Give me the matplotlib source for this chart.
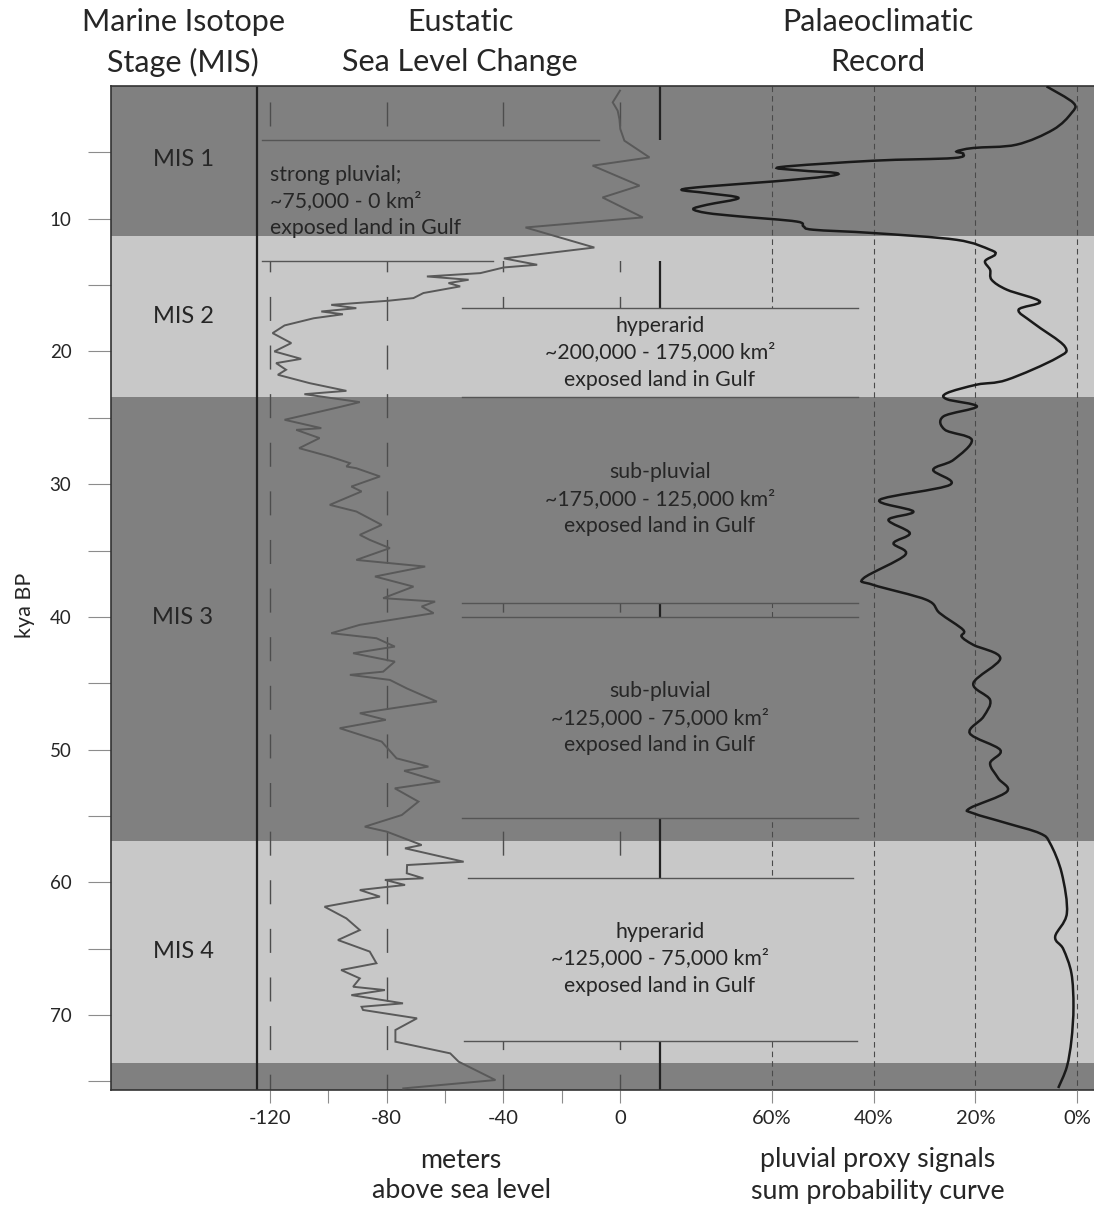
import matplotlib
matplotlib.use("Agg")
import matplotlib.pyplot as plt
from matplotlib.patches import Rectangle, PathPatch
from matplotlib.path import Path
import numpy as np

plt.rcParams['font.family'] = ['Lato', 'DejaVu Sans']

# ---------------- data ----------------
# Eustatic sea level (kya BP, metres above sea level)
sl_kya = [0.35, 1.23, 1.86, 2.49, 3.24, 4.12, 5.38, 6.0, 7.51, 8.40, 9.90, 10.66, 12.17, 12.99,
          13.47, 13.67, 14.10, 14.35, 14.60, 14.85, 15.10, 15.60, 15.98, 16.18, 16.49, 16.74,
          16.99, 17.2, 17.5, 18.04, 18.62, 19.37, 20.0, 20.56, 20.88, 21.38, 21.76, 22.39,
          22.97, 23.22, 23.82, 24.22, 25.15, 25.78, 25.91, 26.53, 27.29, 27.92, 28.17, 28.42,
          28.67, 28.80, 29.42, 30.18, 30.55, 31.56, 32.06, 33.07, 33.82, 34.2, 34.82, 35.71,
          36.21, 36.96, 37.72, 38.59, 38.85, 39.22, 39.72, 40.60, 41.23, 41.61, 42.24, 42.74,
          43.37, 44.13, 44.37, 44.75, 45.4, 46.38, 47.26, 47.76, 48.39, 49.40, 50.66, 51.28,
          51.6, 52.42, 52.92, 53.92, 54.93, 55.81, 56.18, 57.19, 57.44, 58.45, 58.7, 59.32,
          59.70, 59.82, 60.20, 60.58, 61.08, 61.84, 62.72, 63.60, 64.35, 65.22, 66.10, 66.61,
          67.24, 67.87, 68.12, 68.50, 69.12, 69.38, 69.62, 70.25, 71.13, 72.01, 72.89, 73.52,
          74.90, 75.53]
sl_m = [0.0, -2.5, -0.8, -0.2, 0.1, 1.5, 10.1, -9.4, 6.7, -6.0, 7.8, -32.4, -8.8, -39.8,
        -28.4, -39.8, -47.9, -66.2, -51.9, -58.8, -54.8, -67.4, -70.8, -79.4, -99.0, -90.4,
        -102.4, -95.0, -105.0, -115.0, -119.1, -112.7, -118.5, -109.3, -117.9, -114.5, -117.3, -106.4,
        -93.8, -108.2, -89.2, -96.7, -115.0, -102.4, -111.0, -103.0, -110.0, -99.5, -96.0, -92.6,
        -93.8, -90.4, -82.3, -92.1, -88.6, -99.5, -90.4, -81.7, -89.2, -85.8, -78.9, -90.4,
        -66.8, -84.0, -70.8, -81.2, -63.4, -68.0, -63.9, -89.2, -99.0, -83.5, -77.2, -91.5,
        -77.2, -81.2, -92.6, -78.9, -73.0, -62.8, -89.2, -80.3, -96.1, -81.7, -76.6, -65.7,
        -74.0, -61.7, -77.2, -69.1, -74.8, -87.5, -80.0, -68.0, -73.7, -53.6, -73.0, -73.1,
        -67.4, -80.6, -73.7, -89.2, -82.3, -101.3, -93.8, -89.2, -96.7, -85.8, -83.5, -95.6,
        -89.2, -91.5, -80.6, -92.1, -74.4, -88.6, -88.1, -69.6, -77.0, -77.0, -58.2, -55.3,
        -42.7, -74.3]

# Pluvial proxy signals, sum probability (kya BP, %)
pc_kya = [0.03, 1.28, 2.04, 3.29, 4.42, 4.67, 4.93, 5.10, 5.43, 5.63, 6.11, 6.36, 6.56, 6.81,
          7.19, 7.57, 7.82, 8.07, 8.44, 8.95, 9.27, 9.57, 9.83, 10.21, 10.58, 10.83, 11.08,
          11.59, 12.34, 12.70, 13.20, 13.85, 14.60, 15.35, 16.24, 16.86, 17.86, 19.63, 20.50,
          22.14, 22.50, 23.14, 23.60, 24.15, 24.90, 25.90, 26.66, 28.17, 28.92, 30.05, 31.18,
          32.06, 32.69, 33.69, 34.45, 35.33, 37.09, 37.59, 38.72, 39.72, 40.98, 41.49, 42.11,
          43.12, 45.00, 46.26, 47.52, 48.77, 50.03, 51.03, 52.16, 53.17, 54.42, 54.80, 55.55,
          56.31, 57.06, 59.32, 62.34, 64.10, 65.03, 66.86, 69.38, 71.89, 73.90, 75.50]
pc_pct = [6.0, 0.7, 1.1, 4.7, 11.9, 20.4, 23.7, 22.4, 24.3, 40.1, 58.4, 54.5, 47.3, 49.2,
          59.7, 72.8, 77.8, 72.8, 66.6, 72.8, 75.5, 72.8, 66.3, 55.2, 53.8, 51.9, 40.1,
          23.7, 17.1, 16.1, 18.1, 17.1, 16.8, 13.8, 7.3, 11.5, 8.6, 2.4, 4.0,
          13.8, 19.7, 25.6, 25.6, 19.7, 26.3, 26.0, 20.7, 24.3, 28.3, 25.0, 38.8,
          32.2, 37.1, 32.9, 36.1, 33.8, 42.0, 40.1, 29.6, 27.0, 22.4, 22.7, 20.4,
          15.1, 20.4, 17.1, 18.4, 21.1, 15.1, 17.1, 15.5, 13.8, 21.1, 20.4, 13.8,
          7.3, 5.3, 3.0, 2.0, 4.3, 2.7, 1.1, 0.7, 1.1, 2.0, 3.7]

# Marine isotope stages (start, end kya) and labels
mis_start = [0.0, 11.3, 23.4, 56.9, 73.6]
mis_end = [11.3, 23.4, 56.9, 73.6, 80.0]
mis_shade = ['dark', 'light', 'dark', 'light', 'dark']
mis_labels = ['MIS 1', 'MIS 2', 'MIS 3', 'MIS 4']
mis_label_kya = [5.55, 17.39, 40.08, 65.25]

sl_ticks_major = [-120, -80, -40, 0]
sl_ticks_minor = [-100, -60, -20]
pc_ticks = [60, 40, 20, 0]
pc_ticklabels = ['60%', '40%', '20%', '0%']
y_ticks_major = [10, 20, 30, 40, 50, 60, 70]
y_ticks_minor = [5, 15, 25, 35, 45, 55, 65, 75]

box_texts = [
    ["hyperarid", "~200,000 - 175,000 km²", "exposed land in Gulf"],
    ["sub-pluvial", "~175,000 - 125,000 km²", "exposed land in Gulf"],
    ["sub-pluvial", "~125,000 - 75,000 km²", "exposed land in Gulf"],
    ["hyperarid", "~125,000 - 75,000 km²", "exposed land in Gulf"],
]
box_text_kya = [[18.07, 20.03, 22.14], [29.07, 31.11, 33.14], [45.58, 47.61, 49.65], [63.74, 65.71, 67.82]]
mis1_text = ["strong pluvial;", "~75,000 - 0 km²", "exposed land in Gulf"]
mis1_text_kya = [6.70, 8.66, 10.68]

# ---------------- styling ----------------
DARK = '#808080'
LIGHT = '#c8c8c8'
TXT = '#262626'
shade = {'dark': DARK, 'light': LIGHT}

W, H = 1094, 1207
fig = plt.figure(figsize=(W / 100, H / 100), dpi=100)
L, R, T, B = 111, 1094, 86, 1090
ax = fig.add_axes([L / W, 1 - B / H, (R - L) / W, (B - T) / H])
YMAX = 75.65
ax.set_ylim(YMAX, 0)
ax.set_xlim(-174.5, 162.5)

ax2 = ax.twiny()
ax2.set_xlim(190.05, -3.34)
ax2.patch.set_visible(False)
for s in ax2.spines.values():
    s.set_visible(False)

# bands
for s0, s1, sh in zip(mis_start, mis_end, mis_shade):
    ax.axhspan(s0, min(s1, YMAX), color=shade[sh], lw=0, zorder=0)

# sea level gridlines (long dashes)
for xv in sl_ticks_major:
    ax.plot([xv, xv], [0, YMAX], color='#4d4d4d', lw=1.0,
            linestyle=(23.5, (17.3, 17.7)), zorder=1)
# palaeo gridlines (short dashes)
for pv in pc_ticks:
    ax.plot([pv, pv], [0, YMAX], color='#4a4a4a', lw=0.8,
            linestyle=(0, (5, 3.6)), transform=ax2.transData, zorder=1)

# vertical separators
ax.axvline(-124.4, color='#222222', lw=1.6, zorder=1.5)
ax.axvline(13.7, color='#222222', lw=1.6, zorder=1.5)

def band_color(k):
    for s0, s1, sh in zip(mis_start, mis_end, mis_shade):
        if s0 <= k < s1:
            return shade[sh]
    return DARK

def fill_box(x0, x1, k0, k1):
    cuts = [k0] + [s for s in mis_start if k0 < s < k1] + [k1]
    for a, b in zip(cuts[:-1], cuts[1:]):
        ax.add_patch(Rectangle((x0, a), x1 - x0, b - a, facecolor=band_color((a + b) / 2),
                               edgecolor='none', zorder=2))

fill_box(-122.7, 15.6, 4.05, 13.17)
for k0, k1 in [(16.71, 23.42), (23.42, 38.95), (40.0, 55.15), (59.67, 71.96)]:
    fill_box(-54.2, 81.6, k0, k1)

box_lines = [(4.05, -122.7, -7.2), (13.17, -122.7, -43.5), (16.71, -54.2, 81.6),
             (23.42, -54.2, 81.6), (38.95, -54.2, 81.6), (40.0, -54.2, 81.6),
             (55.15, -54.2, 81.6), (59.67, -52.1, 79.9), (71.96, -53.5, 81.2)]
for k, x0, x1 in box_lines:
    ax.plot([x0, x1], [k, k], color='#555555', lw=1.0, zorder=3)

# sea level curve
ax.plot(sl_m, sl_kya, color='#595959', lw=1.4, zorder=4, solid_joinstyle='miter')

# palaeoclimatic curve rendered as a smooth Bezier path through the read points
P = np.column_stack([pc_pct, pc_kya])
Pe = np.vstack([P[0], P, P[-1]])
verts = [tuple(P[0])]
codes = [Path.MOVETO]
for i in range(len(P) - 1):
    p0, p1, p2, p3 = Pe[i], Pe[i + 1], Pe[i + 2], Pe[i + 3]
    c1 = p1 + (p2 - p0) / 6.0
    c2 = p2 - (p3 - p1) / 6.0
    verts += [tuple(c1), tuple(c2), tuple(p2)]
    codes += [Path.CURVE4] * 3
ax.add_patch(PathPatch(Path(verts, codes), facecolor='none', edgecolor='#1a1a1a',
                       lw=1.8, zorder=4, transform=ax2.transData))

# texts
for lab, k in zip(mis_labels, mis_label_kya):
    ax.text(-149.8, k, lab, ha='center', va='center', fontsize=17, color=TXT, zorder=5)
for line, k in zip(mis1_text, mis1_text_kya):
    ax.text(-120.0, k, line, ha='left', va='center', fontsize=15.3, color=TXT, zorder=5)
for lines, ks in zip(box_texts, box_text_kya):
    for line, k in zip(lines, ks):
        ax.text(13.7, k, line, ha='center', va='center', fontsize=15.3, color=TXT, zorder=5)

# axes styling
for side in ['left', 'top', 'bottom']:
    ax.spines[side].set_color('#333333')
    ax.spines[side].set_linewidth(1.2)
ax.spines['right'].set_visible(False)

ax.set_yticks(y_ticks_major)
ax.set_yticks(y_ticks_minor, minor=True)
ax.set_yticklabels([str(v) for v in y_ticks_major])
ax.tick_params(axis='y', which='both', direction='out', length=16.5, width=0.8,
               color='#8c8c8c', pad=12, labelsize=13.5, labelcolor=TXT)
ax.set_xticks(sl_ticks_major)
ax.set_xticks(sl_ticks_minor, minor=True)
ax.set_xticklabels([str(v) for v in sl_ticks_major])
ax.tick_params(axis='x', which='both', direction='out', length=9.5, width=0.8,
               color='#8c8c8c', pad=5, labelsize=14.5, labelcolor=TXT)
ax2.xaxis.set_ticks_position('bottom')
ax2.set_xticks(pc_ticks)
ax2.set_xticklabels(pc_ticklabels)
ax2.tick_params(axis='x', which='both', direction='out', length=9.5, width=0.8,
                color='#8c8c8c', pad=5, labelsize=14.5, labelcolor=TXT)

def ftext(x, y, s, **kw):
    fig.text(x / W, 1 - y / H, s, ha='center', va='center', color=TXT, **kw)

ftext(183, 22, "Marine Isotope", fontsize=22)
ftext(183, 62, "Stage (MIS)", fontsize=22)
ftext(460, 22, "Eustatic", fontsize=22)
ftext(460, 62, "Sea Level Change", fontsize=22)
ftext(878, 22, "Palaeoclimatic", fontsize=22)
ftext(878, 62, "Record", fontsize=22)
ftext(461, 1160, "meters", fontsize=19.3)
ftext(461, 1191, "above sea level", fontsize=19.3)
ftext(878, 1160, "pluvial proxy signals", fontsize=19.3)
ftext(878, 1191, "sum probability curve", fontsize=19.3)
ftext(25, 605, "kya BP", fontsize=15.5, rotation=90)

fig.savefig("out.png", dpi=100, facecolor='white')
